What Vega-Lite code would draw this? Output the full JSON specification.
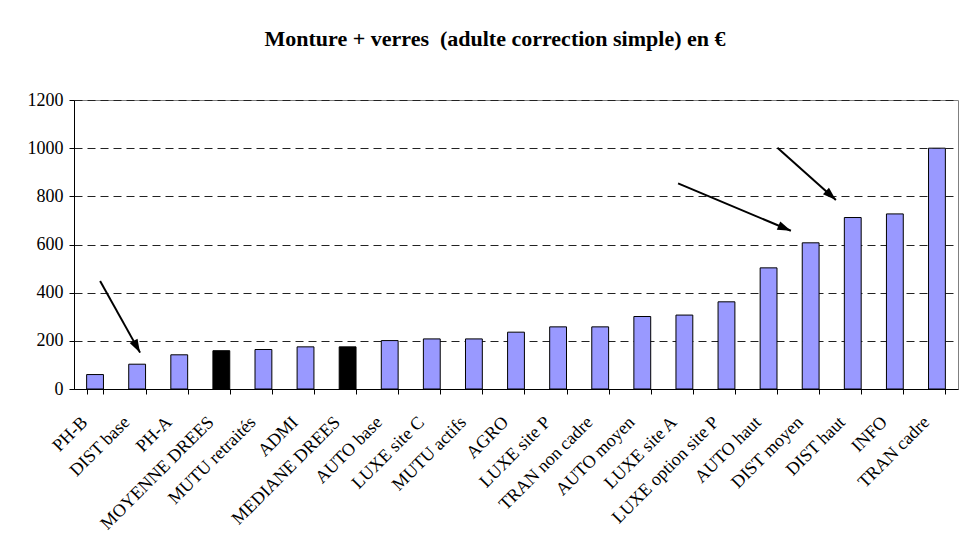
{
  "$schema": "https://vega.github.io/schema/vega-lite/v6.json",
  "autosize": {"type": "none"},
  "padding": {"left": 74, "top": 100, "right": 4, "bottom": 156},
  "width": 884,
  "height": 289,
  "background": "white",
  "title": {
    "text": "Monture + verres\u00a0 (adulte correction simple) en €",
    "font": "Liberation Serif",
    "fontSize": 22,
    "fontWeight": "bold",
    "color": "black",
    "anchor": "middle",
    "dx": -21,
    "offset": 40
  },
  "config": {
    "view": {"stroke": "#808080", "strokeWidth": 1},
    "title": {"font": "Liberation Serif"},
    "axis": {"labelFont": "Liberation Serif", "labelColor": "black"}
  },
  "datasets": {
    "bars": [
      {"label": "PH-B", "value": 60, "type": "normal"},
      {"label": "DIST base", "value": 103, "type": "normal"},
      {"label": "PH-A", "value": 142, "type": "normal"},
      {"label": "MOYENNE DREES", "value": 159, "type": "DREES"},
      {"label": "MUTU retraités", "value": 164, "type": "normal"},
      {"label": "ADMI", "value": 175, "type": "normal"},
      {"label": "MEDIANE DREES", "value": 175, "type": "DREES"},
      {"label": "AUTO base", "value": 201, "type": "normal"},
      {"label": "LUXE site C", "value": 208, "type": "normal"},
      {"label": "MUTU actifs", "value": 208, "type": "normal"},
      {"label": "AGRO", "value": 236, "type": "normal"},
      {"label": "LUXE site P", "value": 258, "type": "normal"},
      {"label": "TRAN non cadre", "value": 258, "type": "normal"},
      {"label": "AUTO moyen", "value": 301, "type": "normal"},
      {"label": "LUXE site A", "value": 307, "type": "normal"},
      {"label": "LUXE option site P", "value": 362, "type": "normal"},
      {"label": "AUTO haut", "value": 503, "type": "normal"},
      {"label": "DIST moyen", "value": 607, "type": "normal"},
      {"label": "DIST haut", "value": 712, "type": "normal"},
      {"label": "INFO", "value": 727, "type": "normal"},
      {"label": "TRAN cadre", "value": 1000, "type": "normal"}
    ],
    "arrows": [
      {"id": "a1", "x": 0.62, "y": 448, "x2": 1.57, "y2": 151},
      {"id": "a2", "x": 14.35, "y": 854, "x2": 17.03, "y2": 657},
      {"id": "a3", "x": 16.71, "y": 1002, "x2": 18.1, "y2": 785}
    ]
  },
  "layer": [
    {
      "data": {"name": "bars"},
      "mark": {"type": "bar", "stroke": "black", "strokeWidth": 1},
      "encoding": {
        "x": {
          "field": "label",
          "type": "nominal",
          "sort": null,
          "scale": {"paddingInner": 0.6, "paddingOuter": 0.3},
          "axis": {
            "title": null,
            "labelAngle": -45,
            "labelFontSize": 18,
            "labelPadding": 19,
            "labelOffset": -17,
            "tickBand": "extent",
            "tickSize": 5,
            "tickColor": "black",
            "domainColor": "black",
            "domainWidth": 1
          }
        },
        "y": {
          "field": "value",
          "type": "quantitative",
          "scale": {"domain": [0, 1200], "nice": false},
          "axis": {
            "title": null,
            "values": [0, 200, 400, 600, 800, 1000, 1200],
            "format": "d",
            "labelFontSize": 18,
            "labelPadding": 6,
            "tickSize": 5,
            "tickColor": "black",
            "domainColor": "black",
            "grid": true,
            "gridColor": "#222222",
            "gridDash": [8, 5],
            "gridWidth": 1
          }
        },
        "color": {
          "field": "type",
          "type": "nominal",
          "scale": {"domain": ["normal", "DREES"], "range": ["#9999ff", "#000000"]},
          "legend": null
        }
      }
    },
    {
      "data": {"name": "arrows"},
      "layer": [
        {
          "mark": {"type": "rule", "color": "black", "strokeWidth": 2},
          "encoding": {
            "x": {"field": "x", "type": "quantitative", "scale": {"domain": [0, 21], "nice": false, "zero": false}, "axis": null},
            "x2": {"field": "x2"},
            "y": {"field": "y", "type": "quantitative"},
            "y2": {"field": "y2"}
          }
        },
        {
          "transform": [{"filter": "datum.id === 'a1'"}],
          "mark": {"type": "point", "shape": "M0,0L0.4,1.2L-0.4,1.2Z", "filled": true, "color": "black", "opacity": 1, "size": 500, "angle": 151},
          "encoding": {
            "x": {"field": "x2", "type": "quantitative"},
            "y": {"field": "y2", "type": "quantitative"}
          }
        },
        {
          "transform": [{"filter": "datum.id === 'a2'"}],
          "mark": {"type": "point", "shape": "M0,0L0.4,1.2L-0.4,1.2Z", "filled": true, "color": "black", "opacity": 1, "size": 500, "angle": 113},
          "encoding": {
            "x": {"field": "x2", "type": "quantitative"},
            "y": {"field": "y2", "type": "quantitative"}
          }
        },
        {
          "transform": [{"filter": "datum.id === 'a3'"}],
          "mark": {"type": "point", "shape": "M0,0L0.4,1.2L-0.4,1.2Z", "filled": true, "color": "black", "opacity": 1, "size": 500, "angle": 132},
          "encoding": {
            "x": {"field": "x2", "type": "quantitative"},
            "y": {"field": "y2", "type": "quantitative"}
          }
        }
      ]
    }
  ],
  "resolve": {"scale": {"x": "independent"}}
}
